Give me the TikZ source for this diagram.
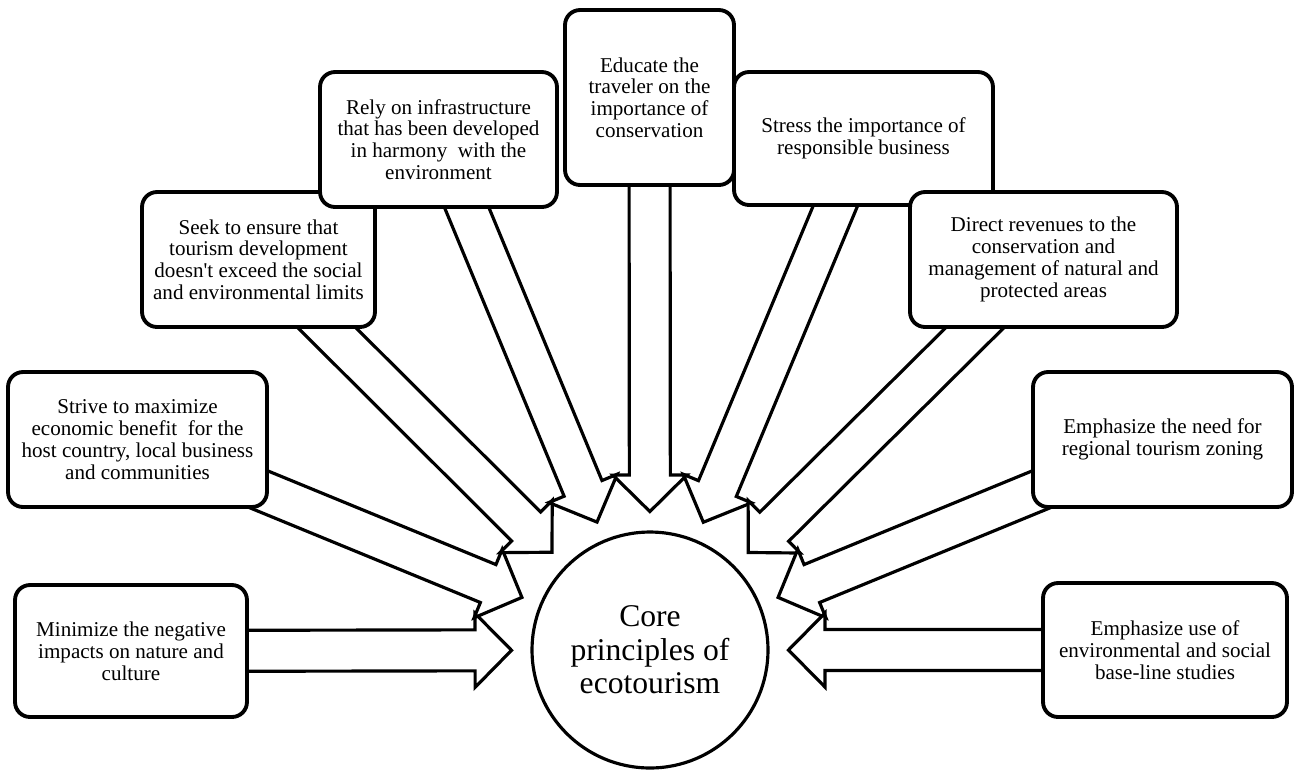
\documentclass[tikz,border=0pt]{standalone}
\usepackage{fontspec}
\setmainfont{Liberation Serif}[Ligatures=TeXOff]
\usetikzlibrary{calc,backgrounds}

\begin{document}
\begin{tikzpicture}[x=0.02cm,y=-0.02cm,
	principle/.style={draw, line width=2.2pt, rounded corners=0.3cm, fill=white, align=center, inner sep=2pt, font=\fontsize{12}{12.4}\selectfont},
	hub/.style={draw, circle, line width=1.8pt, minimum size=4.72cm, inner sep=0pt, align=center, font=\fontsize{18}{19}\selectfont},
	fat arrow/.style={draw, line width=1.8pt, fill=white}]
	%\draw[help lines] (0,0) grid[step=50] (1295,769);
	\useasboundingbox (0,0) rectangle (1295,769);
	\node[hub] (core) at (650,650) {Core\\principles of\\ecotourism};
	\node[principle, minimum width=4.64cm, minimum height=2.64cm] (mini) at (131,651)
		{Minimize the negative\\impacts on nature and\\culture};
	\node[principle, minimum width=5.18cm, minimum height=2.70cm] (strive) at (137.5,439.5)
		{Strive to maximize\\economic benefit~ for the\\host country, local business\\and communities};
	\node[principle, minimum width=4.66cm, minimum height=2.70cm] (seek) at (258.5,259.5)
		{Seek to ensure that\\tourism development\\doesn't exceed the social\\and environmental limits};
	\node[principle, minimum width=4.74cm, minimum height=2.70cm] (rely) at (438.5,139.5)
		{Rely on infrastructure\\that has been developed\\in harmony~ with the\\environment};
	\node[principle, minimum width=3.38cm, minimum height=3.50cm] (educ) at (649.5,97.5)
		{Educate the\\traveler on the\\importance of\\conservation};
	\node[principle, minimum width=5.18cm, minimum height=2.66cm] (stress) at (863.5,138.5)
		{Stress the importance of\\responsible business};
	\node[principle, minimum width=5.34cm, minimum height=2.70cm] (direct) at (1043.5,259.5)
		{Direct revenues to the\\conservation and\\management of natural and\\protected areas};
	\node[principle, minimum width=5.18cm, minimum height=2.70cm] (need) at (1162.5,439.5)
		{Emphasize the need for\\regional tourism zoning};
	\node[principle, minimum width=4.88cm, minimum height=2.68cm] (use) at (1165,650)
		{Emphasize use of\\environmental and social\\base-line studies};
	\begin{scope}[on background layer]
	\foreach \b in {mini,strive,seek,rely,educ,stress,direct,need,use}
		\draw[fat arrow] let \p1=($(\b.center)-(core.center)$), \n1={atan2(\y1,\x1)}, \n2={veclen(\x1,\y1)} in
			[shift={(core.center)}, rotate=\n1]
			(2.77cm,0cm) -- (3.50cm,0.74cm) -- (3.50cm,0.41cm) -- (\n2,0.41cm)
			-- (\n2,-0.41cm) -- (3.50cm,-0.41cm) -- (3.50cm,-0.74cm) -- cycle;
	\end{scope}
\end{tikzpicture}
\end{document}
